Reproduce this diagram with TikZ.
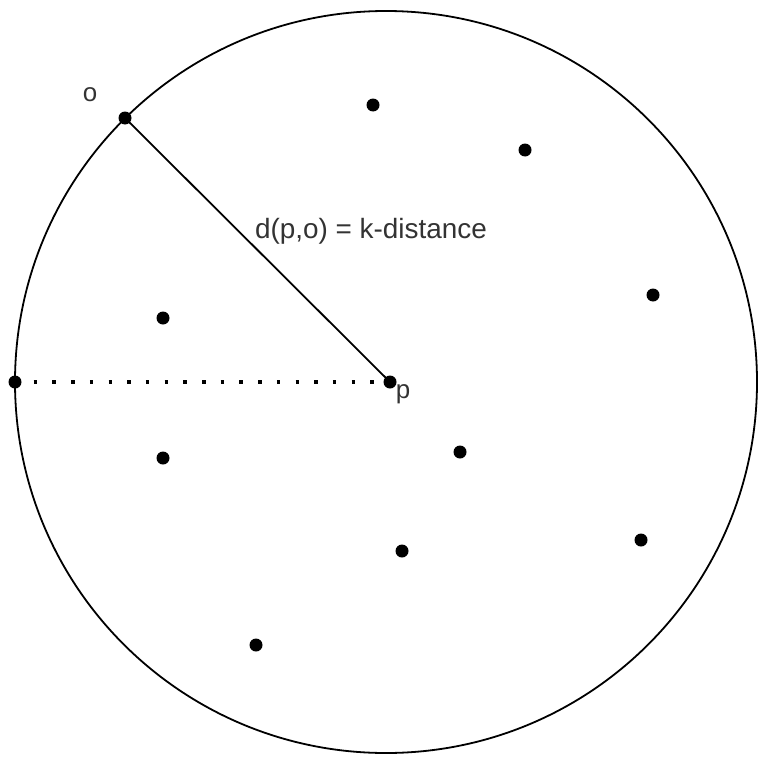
\documentclass[tikz,border=0pt]{standalone}
\usepackage{fontspec}
\setmainfont{Liberation Sans}
\begin{document}
\begin{tikzpicture}[x=1bp,y=-1bp,
  dot/.style={circle,fill=black,inner sep=0pt,minimum size=13bp},
  ring/.style={circle,draw=black,line width=1.8bp,inner sep=0pt,minimum size=742bp},
  lbl/.style={font=\fontsize{28}{32}\selectfont,text=black!80,inner sep=0pt},
  slbl/.style={font=\fontsize{26}{30}\selectfont,text=black!80,inner sep=0pt}]
\useasboundingbox (0,0) rectangle (757,757);
\node[ring] (ring) at (386,382) {};
\node[dot] (o) at (125,118) {};
\node[dot] (p) at (390,382) {};
\node[dot] (l) at (15,382) {};
\node[dot] (a1) at (373,105) {};
\node[dot] (a2) at (525,150) {};
\node[dot] (a3) at (653,295) {};
\node[dot] (a4) at (163,318) {};
\node[dot] (a5) at (163,458) {};
\node[dot] (a6) at (460,452) {};
\node[dot] (a7) at (402,551) {};
\node[dot] (a8) at (641,540) {};
\node[dot] (a9) at (256,645) {};
\draw[line width=1.8bp] (o.center) -- (p.center);
\draw[line width=3.5bp,dash pattern=on 3.5bp off 15.2bp] (l.center) -- (p.center);
\node[lbl] (t) at (371,231) {d(p,o) = k-distance};
\node[slbl] (ol) at (90,95) {o};
\node[slbl] (pl) at (403,394) {p};
\end{tikzpicture}
\end{document}
